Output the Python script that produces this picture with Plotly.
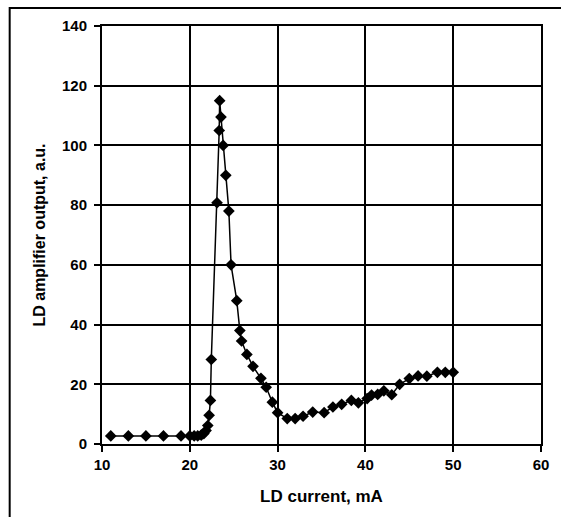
import plotly.graph_objects as go

current_mA = [11.0, 13.0, 15.0, 17.0, 19.0, 20.0, 20.5, 20.9, 21.3, 21.6,
              21.85, 22.05, 22.2, 22.35, 22.45, 23.1, 23.35, 23.4, 23.55, 23.8,
              24.1, 24.45, 24.7, 25.35, 25.7, 25.9, 26.5, 27.2, 28.1, 28.7,
              29.4, 30.0, 31.1, 32.0, 32.9, 34.0, 35.3, 36.3, 37.3, 38.4,
              39.2, 40.2, 40.7, 41.4, 42.1, 43.0, 43.9, 45.0, 46.0, 47.0,
              48.2, 49.1, 50.0]
amp_output = [2.7, 2.7, 2.7, 2.7, 2.7, 2.7, 2.7, 2.7, 3.0, 3.5,
               4.5, 6.2, 9.6, 14.6, 28.3, 80.8, 105.0, 115.0, 109.5, 100.0,
               90.0, 78.0, 60.0, 48.0, 38.0, 34.5, 30.0, 26.0, 22.0, 19.0,
               14.0, 10.5, 8.5, 8.5, 9.3, 10.7, 10.5, 12.4, 13.3, 14.6,
               13.8, 15.2, 16.4, 16.6, 17.8, 16.5, 20.0, 21.9, 22.8, 22.7,
               24.0, 24.0, 24.0]

x_ticks = [10, 20, 30, 40, 50, 60]
y_ticks = [0, 20, 40, 60, 80, 100, 120, 140]

fig = go.Figure()
fig.add_trace(go.Scatter(
    x=current_mA, y=amp_output, mode="lines+markers",
    line=dict(color="black", width=1.5),
    marker=dict(symbol="diamond", size=9, color="black"),
    showlegend=False,
))

font = dict(family="Liberation Sans, Arial, sans-serif", color="black")

fig.update_layout(
    width=561, height=517,
    margin=dict(l=102, r=12, t=26, b=73),
    paper_bgcolor="white", plot_bgcolor="white",
    font=font,
    xaxis=dict(
        range=[10, 60], tickvals=x_ticks, ticktext=[f"<b>{v}</b>" for v in x_ticks],
        showgrid=True, gridcolor="black", gridwidth=1.8,
        showline=True, linecolor="black", linewidth=2, mirror=True,
        ticks="outside", ticklen=6, tickwidth=1.5, tickcolor="black",
        tickfont=dict(size=15, **font), zeroline=False,
        title=dict(text="<b>LD current, mA</b>", font=dict(size=17, **font), standoff=18),
    ),
    yaxis=dict(
        range=[0, 140], tickvals=y_ticks, ticktext=[f"<b>{v}</b>" for v in y_ticks],
        showgrid=True, gridcolor="black", gridwidth=1.8,
        showline=True, linecolor="black", linewidth=2, mirror=True,
        ticks="outside", ticklen=6, tickwidth=1.5, tickcolor="black",
        tickfont=dict(size=15, **font), zeroline=False, ticklabelstandoff=4,
        title=dict(text="<b>LD amplifier output, a.u.</b>", font=dict(size=16, **font), standoff=12),
    ),
    shapes=[dict(
        type="rect", xref="paper", yref="paper",
        x0=(8 - 102) / 447, x1=1.2, y0=-0.4, y1=(444 - 8) / 418,
        line=dict(color="black", width=2), fillcolor="rgba(0,0,0,0)", layer="below",
    )],
)

fig.write_html("out.html")
